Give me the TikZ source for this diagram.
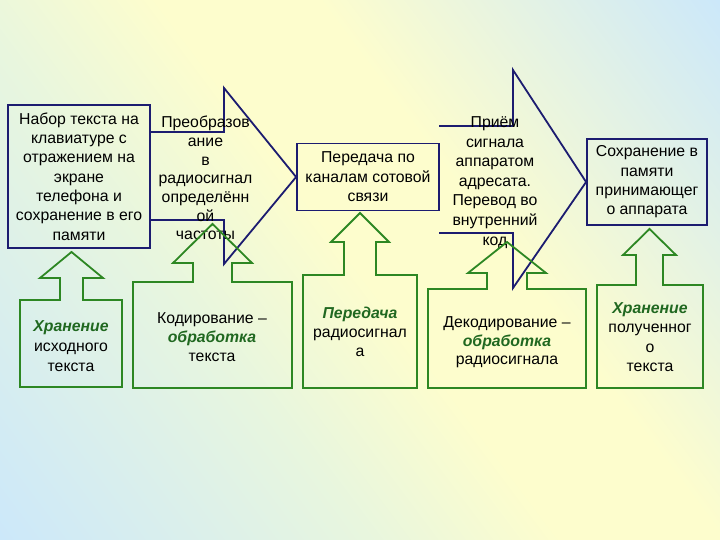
\documentclass[tikz,border=0pt]{standalone}
\usepackage{fontspec}
\setmainfont{Liberation Sans}

\definecolor{bgblue}{RGB}{204,232,250}
\definecolor{bggreen}{RGB}{232,246,222}
\definecolor{bgyellow}{RGB}{253,253,205}
\definecolor{navy}{RGB}{28,28,112}
\definecolor{grn}{RGB}{45,135,35}
\definecolor{grntext}{RGB}{32,104,32}

\pgfdeclarehorizontalshading{bgshade}{100bp}{color(0bp)=(bgblue); color(15bp)=(bgblue);
  color(38bp)=(bggreen); color(50bp)=(bgyellow); color(60bp)=(bgyellow);
  color(85bp)=(bgblue); color(100bp)=(bgblue)}

\newcommand{\grword}[1]{{\color{grntext}\bfseries\itshape #1}}

\begin{document}
\begin{tikzpicture}[x=1pt,y=-1pt]
        \tikzstyle{bluebox}=[draw=navy, line width=1.8pt, inner sep=0pt, align=center]
        \tikzstyle{bluearrow}=[draw=navy, line width=1.8pt, line join=miter]
        \tikzstyle{greenarrow}=[draw=grn, line width=1.8pt, line join=miter]
        \tikzstyle{txt}=[align=center, inner sep=0pt]
        \useasboundingbox (0,0) rectangle (720,540);

        % background
        \shade[shading=bgshade, shading angle=36.87] (0,0) rectangle (720,540);

        % the three blue boxes
        \node[bluebox, minimum width=142pt, minimum height=143pt,
              font=\fontsize{15.8}{19.3}\selectfont] at (79, 176.5) (nabor)
              {Набор текста на\\клавиатуре с\\отражением на\\экране\\телефона и\\сохранение в его\\памяти};
        \node[bluebox, minimum width=142pt, minimum height=67pt,
              font=\fontsize{15.8}{19.5}\selectfont] at (368, 177) (peredacha)
              {Передача по\\каналам сотовой\\связи};
        \node[bluebox, minimum width=120pt, minimum height=86pt,
              font=\fontsize{15.8}{19.3}\selectfont] at (647, 182) (sohr)
              {Сохранение в\\памяти\\принимающег\\о аппарата};

        % the two blue arrows in between
        \draw[bluearrow] (150, 132) -- (224, 132) -- (224, 88) -- (peredacha.west)
              -- (224, 264) -- (224, 220) -- (150, 220);
        \draw[bluearrow] (439, 126) -- (513, 126) -- (513, 70) -- (sohr.west)
              -- (513, 288) -- (513, 233) -- (439, 233);

        \node[txt, font=\fontsize{15.8}{18.7}\selectfont] at (205.5, 178) (preobr)
              {Преобразов\\ание\\в\\радиосигнал\\определённ\\ой\\частоты};
        \node[txt, font=\fontsize{15.8}{19.6}\selectfont] at (495, 182.5) (priem)
              {Приём\\сигнала\\аппаратом\\адресата.\\Перевод во\\внутренний\\код};

        % green boxes with arrows pointing up
        \draw[greenarrow] (20, 387) -- (20, 300) -- (60, 300) -- (60, 278) -- (40, 278)
              -- (71.5, 252) -- (103, 278) -- (83, 278) -- (83, 300) -- (122, 300) -- (122, 387) -- cycle;
        \draw[greenarrow] (133, 388) -- (133, 282) -- (193, 282) -- (193, 263) -- (173, 263)
              -- (212.5, 224) -- (252, 263) -- (232, 263) -- (232, 282) -- (292, 282) -- (292, 388) -- cycle;
        \draw[greenarrow] (303, 388) -- (303, 275) -- (344, 275) -- (344, 242) -- (331, 242)
              -- (360, 213) -- (389, 242) -- (376, 242) -- (376, 275) -- (417, 275) -- (417, 388) -- cycle;
        \draw[greenarrow] (428, 388) -- (428, 289) -- (487, 289) -- (487, 273) -- (468, 273)
              -- (507, 242) -- (546, 273) -- (527, 273) -- (527, 289) -- (586, 289) -- (586, 388) -- cycle;
        \draw[greenarrow] (597, 388) -- (597, 285) -- (636, 285) -- (636, 255) -- (623, 255)
              -- (649.5, 229) -- (676, 255) -- (663, 255) -- (663, 285) -- (703, 285) -- (703, 388) -- cycle;

        \node[txt, font=\fontsize{15.8}{20}\selectfont] at (71, 346) (g1)
              {\grword{Хранение}\\исходного\\текста};
        \node[txt, font=\fontsize{15.8}{19}\selectfont] at (212, 337) (g2)
              {Кодирование –\\\grword{обработка}\\текста};
        \node[txt, font=\fontsize{15.8}{19}\selectfont] at (360, 332) (g3)
              {\grword{Передача}\\радиосигнал\\а};
        \node[txt, font=\fontsize{15.8}{18.5}\selectfont] at (507, 342.5) (g4)
              {Декодирование –\\\grword{обработка}\\радиосигнала};
        \node[txt, font=\fontsize{15.8}{19.3}\selectfont] at (650, 337) (g5)
              {\grword{Хранение}\\полученног\\о\\текста};
\end{tikzpicture}
\end{document}
